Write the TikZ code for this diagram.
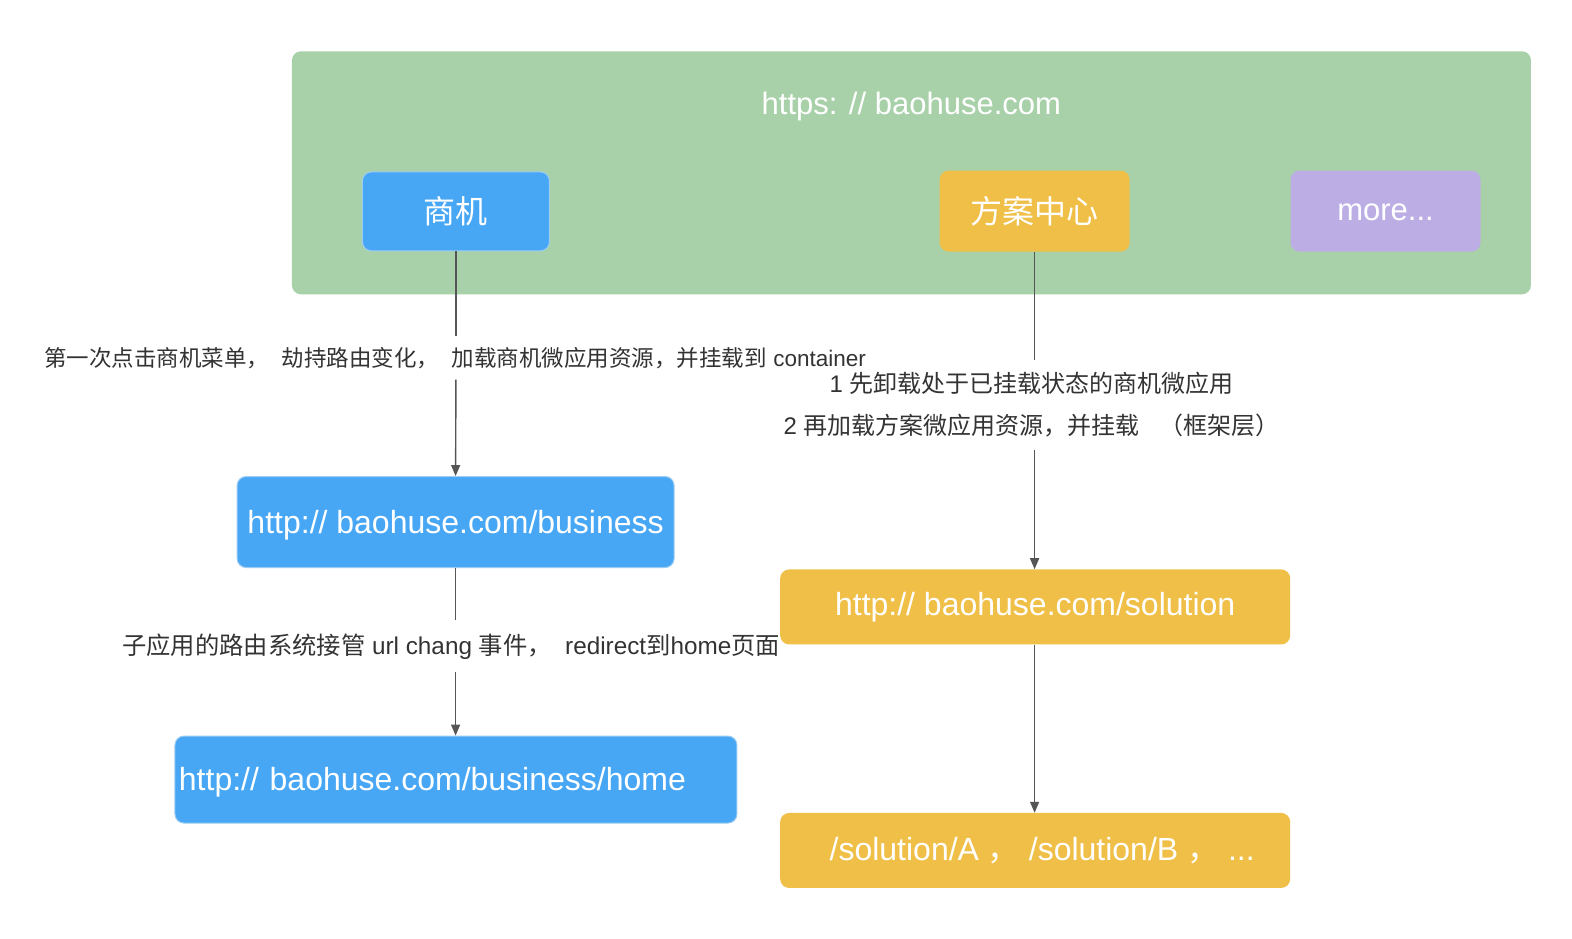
\documentclass[tikz,border=0pt]{standalone}
\usepackage{fontspec}
\setmainfont{Liberation Sans}
\newfontfamily\cjk{Noto Sans CJK SC}
\usetikzlibrary{arrows.meta}
\definecolor{grn}{HTML}{A8D1A9}
\definecolor{blu}{HTML}{47A7F5}
\definecolor{bluB}{HTML}{9ECDF3}
\definecolor{org}{HTML}{F0BF47}
\definecolor{pur}{HTML}{BCAEE4}
\definecolor{txt}{HTML}{333333}
\definecolor{ln}{HTML}{555555}
\begin{document}
\begin{tikzpicture}[x=1.00255pt,y=-1.00214pt,
  box/.style={rounded corners=9pt, inner sep=0pt, text=white, anchor=north west},
  bigtxt/.style={font=\fontsize{32}{38}\selectfont},
  lbl/.style={text=txt, inner xsep=3pt},
  line/.style={draw=ln, line width=1.4pt},
  arr/.style={line, -{Triangle[length=11pt,width=9pt]}}]
\useasboundingbox (0,0) rectangle (1568,936);
\fill[white] (0,0) rectangle (1568,936);
% container
\node[box, fill=grn, minimum width=1239pt, minimum height=243pt] (frame) at (291,51) {};
\node[text=white, font=\fontsize{31}{36}\selectfont] (title) at (909,106) {https: // baohuse.com};
% top apps
\node[box, fill=blu, draw=bluB, line width=1pt, minimum width=187pt, minimum height=79pt, bigtxt] (sj) at (361,171) {\cjk 商机};
\node[box, fill=org, minimum width=190pt, minimum height=81pt, bigtxt] (fa) at (937,170) {\cjk 方案中心};
\node[box, fill=pur, minimum width=190pt, minimum height=81pt, font=\fontsize{31}{36}\selectfont] (more) at (1287,170) {\raisebox{-9.5pt}[0pt][0pt]{more...}};
% left column
\node[box, fill=blu, draw=bluB, line width=1pt, minimum width=437pt, minimum height=91pt, bigtxt] (biz) at (236,475) {\raisebox{-11pt}[0pt][0pt]{http:// baohuse.com/business}};
\node[box, fill=blu, draw=bluB, line width=1pt, minimum width=562pt, minimum height=87pt, bigtxt, text width=554pt, align=left, inner xsep=4pt] (home) at (174,734) {\raisebox{-11pt}[0pt][0pt]{http:// baohuse.com/business/home}};
% right column
\node[box, fill=org, minimum width=510pt, minimum height=75pt, bigtxt] (sol) at (778,568) {\raisebox{3pt}{http:// baohuse.com/solution}};
\node[box, fill=org, minimum width=510pt, minimum height=75pt, bigtxt] (solab) at (778,811) {\hspace{14pt}/solution/A {\cjk ，} /solution/B {\cjk ，} ...};
% labels
\node[lbl, font=\fontsize{22.5}{27}\selectfont, inner ysep=11pt] (l1) at (454,357) {{\cjk 第一次点击商机菜单，}\ \ {\cjk 劫持路由变化，}\ \ {\cjk 加载商机微应用资源，并挂载到} container};
\node[lbl, font=\fontsize{24.3}{29}\selectfont, inner ysep=13pt] (l2) at (450,645) {{\cjk 子应用的路由系统接管} url chang {\cjk 事件，}\ \ redirect{\cjk 到}home{\cjk 页面}};
\node[lbl, font=\fontsize{24}{42}\selectfont, align=center, inner ysep=12pt] (l3) at (1029,404) {1 {\cjk 先卸载处于已挂载状态的商机微应用}\\2 {\cjk 再加载方案微应用资源，并挂载}\ \ \ {\cjk （框架层）}};
% connectors
\draw[line] (sj.south) -- (sj.south |- l1.north);
\draw[arr] (sj.south |- l1.south) -- (biz.north);
\draw[line] (biz.south) -- (biz.south |- l2.north);
\draw[arr] (biz.south |- l2.south) -- (biz.south |- home.north);
\draw[line] (fa.south) -- (fa.south |- l3.north);
\draw[arr] (fa.south |- l3.south) -- (sol.north -| fa.south);
\draw[arr] (sol.south -| fa.south) -- (solab.north -| fa.south);
\end{tikzpicture}
\end{document}
